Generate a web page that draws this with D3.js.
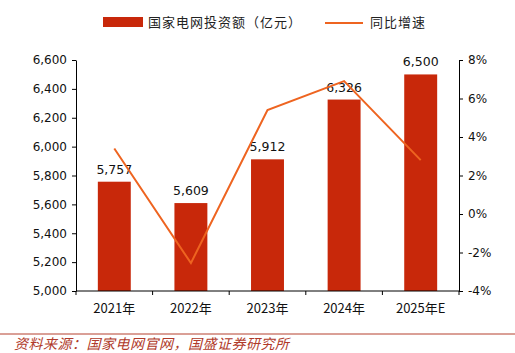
<!DOCTYPE html>
<html>
<head>
<meta charset="utf-8">
<script src="https://cdn.jsdelivr.net/npm/d3@7"></script>
<style>
  body { margin: 0; background: #fff; }
  svg text { font-family: "DejaVu Sans", sans-serif; }
  .cjk { font-family: "Noto Sans CJK SC", sans-serif; }
</style>
</head>
<body>
<div id="chart"></div>
<script>
// data
const years = ["2021年", "2022年", "2023年", "2024年", "2025年E"];
const investment = [5757, 5609, 5912, 6326, 6500];
const growth = [3.4, -2.55, 5.4, 6.9, 2.8];
const leftTicks = [5000, 5200, 5400, 5600, 5800, 6000, 6200, 6400, 6600];
const rightTicks = [-4, -2, 0, 2, 4, 6, 8];

const W = 515, H = 353;
const margin = {top: 60, right: 56, bottom: 62, left: 76};
const barColor = "#c8280a";
const lineColor = "#ee6420";

const svg = d3.select("#chart").append("svg")
    .attr("width", W)
    .attr("height", H);

const x = d3.scaleBand().domain(years)
    .range([margin.left, W - margin.right])
    .paddingInner(0.57).paddingOuter(0.285);
const xBoundary = d3.scaleBand().domain(years)
    .range([margin.left, W - margin.right]);
const yL = d3.scaleLinear().domain([5000, 6600]).range([H - margin.bottom, margin.top]);
const yR = d3.scaleLinear().domain([-4, 8]).range([H - margin.bottom, margin.top]);

// bars
svg.append("g").selectAll("rect")
    .data(investment)
    .join("rect")
    .attr("x", (d, i) => x(years[i]))
    .attr("width", x.bandwidth())
    .attr("y", d => yL(d))
    .attr("height", d => yL(5000) - yL(d))
    .attr("fill", barColor);

// bar labels
svg.append("g").selectAll("text")
    .data(investment)
    .join("text")
    .attr("x", (d, i) => x(years[i]) + x.bandwidth() / 2)
    .attr("y", d => yL(d) - 8)
    .attr("text-anchor", "middle")
    .attr("font-size", 12.5)
    .attr("fill", "#111")
    .text(d => d3.format(",")(d));

// growth line
const line = d3.line()
    .x((d, i) => x(years[i]) + x.bandwidth() / 2)
    .y(d => yR(d));
svg.append("path")
    .datum(growth)
    .attr("d", line)
    .attr("fill", "none")
    .attr("stroke", lineColor)
    .attr("stroke-width", 2);

// left axis
const leftAxis = svg.append("g")
    .attr("transform", `translate(${margin.left},0)`)
    .call(d3.axisLeft(yL).tickValues(leftTicks).tickFormat(d3.format(",")).tickSize(4).tickSizeOuter(0));

// right axis
const rightAxis = svg.append("g")
    .attr("transform", `translate(${W - margin.right},0)`)
    .call(d3.axisRight(yR).tickValues(rightTicks).tickFormat(d => d + "%").tickSize(4).tickSizeOuter(0));

[leftAxis, rightAxis].forEach(a => {
    a.select(".domain").attr("stroke", "#000");
    a.selectAll("text").attr("font-size", 12).attr("fill", "#111")
        .attr("font-family", "DejaVu Sans, sans-serif");
});
leftAxis.selectAll("text").attr("x", -9);
rightAxis.selectAll("text").attr("x", 9);

// bottom axis with ticks at category boundaries
const baseY = H - margin.bottom;
const bottom = svg.append("g");
bottom.append("line")
    .attr("x1", margin.left).attr("x2", W - margin.right)
    .attr("y1", baseY).attr("y2", baseY)
    .attr("stroke", "#000");
const bounds = years.map(d => xBoundary(d)).concat([W - margin.right]);
bottom.selectAll(".tick")
    .data(bounds)
    .join("line")
    .attr("x1", d => d).attr("x2", d => d)
    .attr("y1", baseY).attr("y2", baseY + 4)
    .attr("stroke", "#000");
bottom.selectAll("text")
    .data(years)
    .join("text")
    .attr("class", "cjk")
    .attr("x", d => xBoundary(d) + xBoundary.bandwidth() / 2)
    .attr("y", baseY + 22)
    .attr("text-anchor", "middle")
    .attr("font-size", 13)
    .attr("fill", "#111")
    .text(d => d);

// legend
const legend = svg.append("g");
legend.append("rect")
    .attr("x", 103).attr("y", 17).attr("width", 40).attr("height", 10)
    .attr("fill", barColor);
legend.append("text")
    .attr("class", "cjk")
    .attr("x", 148).attr("y", 27)
    .attr("font-size", 13).attr("letter-spacing", 1).attr("fill", "#222")
    .text("国家电网投资额（亿元）");
legend.append("line")
    .attr("x1", 325).attr("x2", 363).attr("y1", 23).attr("y2", 23)
    .attr("stroke", lineColor).attr("stroke-width", 2);
legend.append("text")
    .attr("class", "cjk")
    .attr("x", 370).attr("y", 27)
    .attr("font-size", 13).attr("letter-spacing", 1).attr("fill", "#222")
    .text("同比增速");

// source note
svg.append("line")
    .attr("x1", 0).attr("x2", W).attr("y1", 334).attr("y2", 334)
    .attr("stroke", "#b5412e").attr("stroke-width", 1);
svg.append("text")
    .attr("class", "cjk")
    .attr("x", 14).attr("y", 349)
    .attr("font-size", 14)
    .attr("letter-spacing", 0.5)
    .attr("font-style", "italic")
    .attr("fill", "#b03a2a")
    .text("资料来源：国家电网官网，国盛证券研究所");
</script>
</body>
</html>
